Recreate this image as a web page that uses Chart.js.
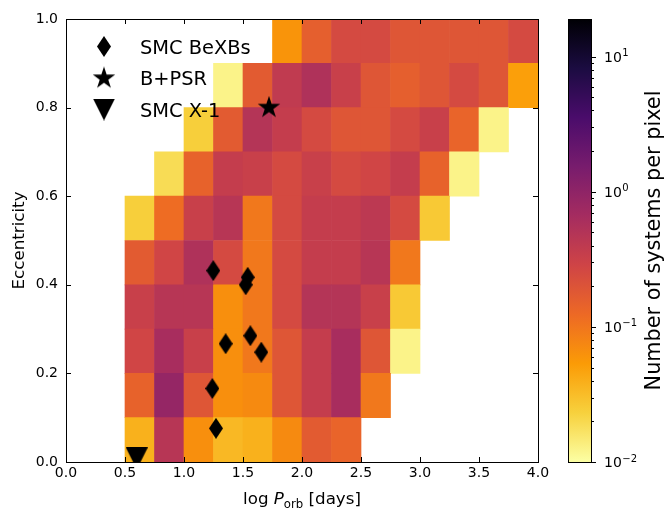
<!DOCTYPE html>
<html>
<head>
<meta charset="utf-8">
<script src="https://cdn.jsdelivr.net/npm/chart.js@4.4.1/dist/chart.umd.min.js"></script>
<style>
  html, body { margin: 0; padding: 0; background: #fff; }
  #wrap { position: relative; width: 668px; height: 508px; }
  #heat { position: absolute; left: 0; top: 0; }
  #scale { position: absolute; left: 560px; top: 0; }
</style>
</head>
<body>
<div id="wrap">
  <canvas id="heat" width="560" height="508"></canvas>
  <canvas id="scale" width="108" height="508"></canvas>
</div>
<script>
// bin centres in log P_orb, bin edges in eccentricity
const logPCentres = [0.125, 0.375, 0.625, 0.875, 1.125, 1.375, 1.625, 1.875, 2.125, 2.375, 2.625, 2.875, 3.125, 3.375, 3.625, 3.875];
const eccEdges = [0.0, 0.1, 0.2, 0.3, 0.4, 0.5, 0.6, 0.7, 0.8, 0.9, 1.0];

// number of systems per pixel, one row per eccentricity bin (bottom up), null = empty
const ecc00 = [null, null, 0.038, 0.46, 0.065, 0.034, 0.038, 0.071, 0.17, 0.14, null, null, null, null, null, null];
const ecc01 = [null, null, 0.145, 0.89, 0.19, 0.065, 0.071, 0.19, 0.36, 0.63, 0.096, null, null, null, null, null];
const ecc02 = [null, null, 0.28, 0.63, 0.33, 0.065, 0.096, 0.19, 0.36, 0.63, 0.19, 0.0125, null, null, null, null];
const ecc03 = [null, null, 0.33, 0.46, 0.46, 0.065, 0.096, 0.25, 0.49, 0.49, 0.33, 0.026, null, null, null, null];
const ecc04 = [null, null, 0.17, 0.28, 0.54, 0.25, 0.096, 0.25, 0.36, 0.36, 0.46, 0.096, null, null, null, null];
const ecc05 = [null, null, 0.024, 0.117, 0.33, 0.46, 0.096, 0.25, 0.36, 0.36, 0.42, 0.25, 0.026, null, null, null];
const ecc06 = [null, null, null, 0.019, 0.145, 0.36, 0.33, 0.25, 0.33, 0.25, 0.28, 0.36, 0.145, 0.0125, null, null];
const ecc07 = [null, null, null, null, 0.024, 0.17, 0.49, 0.36, 0.25, 0.19, 0.19, 0.25, 0.33, 0.14, 0.0125, null];
const ecc08 = [null, null, null, null, null, 0.0125, 0.17, 0.39, 0.54, 0.33, 0.19, 0.155, 0.19, 0.25, 0.19, 0.05];
const ecc09 = [null, null, null, null, null, null, null, 0.06, 0.155, 0.25, 0.25, 0.19, 0.19, 0.19, 0.19, 0.25];

// observed systems
const beXbLogP = [1.248, 1.54, 1.523, 1.353, 1.562, 1.655, 1.24, 1.271];
const beXbEcc = [0.432, 0.417, 0.40, 0.267, 0.285, 0.248, 0.166, 0.076];
const psrLogP = [1.72];
const psrEcc = [0.80];
const x1LogP = [0.60];
const x1Ecc = [0.008];

// axes
const xTicks = [0, 0.5, 1, 1.5, 2, 2.5, 3, 3.5, 4];
const xTickLabels = ['0.0', '0.5', '1.0', '1.5', '2.0', '2.5', '3.0', '3.5', '4.0'];
const yTicks = [0, 0.2, 0.4, 0.6, 0.8, 1.0];
const yTickLabels = ['0.0', '0.2', '0.4', '0.6', '0.8', '1.0'];

// colour bar
const vMin = 0.01;
const vMax = 19;
const cbMajor = [0.01, 0.1, 1, 10];
const cbExponents = ['\u22122', '\u22121', '0', '1'];
const cbMinor = [0.02, 0.03, 0.04, 0.05, 0.06, 0.07, 0.08, 0.09, 0.2, 0.3, 0.4, 0.5, 0.6, 0.7, 0.8, 0.9, 2, 3, 4, 5, 6, 7, 8, 9];

const FONT = 'DejaVu Sans';
const inferno = ['#000004', '#1b0c41', '#4a0c6b', '#781c6d', '#a52c60', '#cf4446', '#ed6925', '#fb9b06', '#f7d13d', '#fcffa4'];

function hexRgb(h) {
  return [parseInt(h.slice(1, 3), 16), parseInt(h.slice(3, 5), 16), parseInt(h.slice(5, 7), 16)];
}

function infernoAt(t) {
  const n = inferno.length - 1;
  t = Math.min(1, Math.max(0, t));
  const i = Math.min(n - 1, Math.floor(t * n));
  const f = t * n - i;
  const a = hexRgb(inferno[i]);
  const b = hexRgb(inferno[i + 1]);
  const c = a.map((v, k) => Math.round(v + (b[k] - v) * f));
  return `rgb(${c[0]}, ${c[1]}, ${c[2]})`;
}

// inferno_r on a log norm
function colourFor(v) {
  const f = (Math.log10(v) - Math.log10(vMin)) / (Math.log10(vMax) - Math.log10(vMin));
  return infernoAt(1 - f);
}

function marker(w, h, path) {
  const c = document.createElement('canvas');
  c.width = w;
  c.height = h;
  const g = c.getContext('2d');
  g.fillStyle = '#000';
  g.beginPath();
  path(g, w, h);
  g.closePath();
  g.fill();
  return c;
}

const diamondImg = marker(14, 21, (g, w, h) => {
  g.moveTo(w / 2, 0);
  g.lineTo(w, h / 2);
  g.lineTo(w / 2, h);
  g.lineTo(0, h / 2);
});
const starImg = marker(24, 24, (g) => {
  for (let i = 0; i < 10; i++) {
    const r = i % 2 === 0 ? 11.8 : 11.8 * 0.382;
    const a = -Math.PI / 2 + (i * Math.PI) / 5;
    const px = 12 + r * Math.cos(a);
    const py = 12 + r * Math.sin(a);
    if (i === 0) g.moveTo(px, py);
    else g.lineTo(px, py);
  }
});
const triImg = marker(22, 22, (g, w, h) => {
  g.moveTo(0, 0);
  g.lineTo(w, 0);
  g.lineTo(w / 2, h);
});

const rows = [ecc00, ecc01, ecc02, ecc03, ecc04, ecc05, ecc06, ecc07, ecc08, ecc09];
const heatSets = rows.map((vals, r) => {
  const pts = [];
  const cols = [];
  vals.forEach((v, c) => {
    if (v === null) return;
    pts.push({ x: logPCentres[c], y: [eccEdges[r], eccEdges[r + 1]] });
    cols.push(colourFor(v));
  });
  return {
    type: 'bar',
    data: pts,
    backgroundColor: cols,
    borderWidth: 0,
    barPercentage: 1,
    categoryPercentage: 1,
    grouped: false,
    order: 2,
  };
});

function points(xs, ys) {
  return xs.map((x, i) => ({ x: x, y: ys[i] }));
}

const legendItems = [
  { img: diamondImg, text: 'SMC BeXBs' },
  { img: starImg, text: 'B+PSR' },
  { img: triImg, text: 'SMC X-1' },
];

const heatDecor = {
  id: 'heatDecor',
  afterDatasetsDraw(chart) {
    const { ctx, chartArea: a, scales } = chart;
    ctx.save();
    ctx.strokeStyle = '#000';
    ctx.lineWidth = 1;
    ctx.beginPath();
    xTicks.forEach((v) => {
      const px = Math.round(scales.x.getPixelForValue(v)) + 0.5;
      ctx.moveTo(px, a.bottom);
      ctx.lineTo(px, a.bottom - 5);
      ctx.moveTo(px, a.top);
      ctx.lineTo(px, a.top + 5);
    });
    yTicks.forEach((v) => {
      const py = Math.round(scales.y.getPixelForValue(v)) + 0.5;
      ctx.moveTo(a.left, py);
      ctx.lineTo(a.left + 5, py);
      ctx.moveTo(a.right, py);
      ctx.lineTo(a.right - 5, py);
    });
    ctx.stroke();
    ctx.strokeRect(Math.round(a.left) + 0.5, Math.round(a.top) + 0.5, Math.round(a.width), Math.round(a.height));

    // legend, no frame
    ctx.fillStyle = '#000';
    ctx.font = `19.4px "${FONT}"`;
    ctx.textAlign = 'left';
    ctx.textBaseline = 'alphabetic';
    const rowsY = [46.5, 78.3, 109.5];
    legendItems.forEach((it, i) => {
      const cy = rowsY[i];
      ctx.drawImage(it.img, 104 - it.img.width / 2, cy - it.img.height / 2);
      ctx.fillText(it.text, 140, cy + 7.1);
    });

    // axis titles
    const midX = (a.left + a.right) / 2;
    const big = 16.7;
    const small = 11.7;
    const parts = [
      { t: 'log ', f: `${big}px "${FONT}"`, dy: 0 },
      { t: 'P', f: `italic ${big}px "${FONT}"`, dy: 0 },
      { t: 'orb', f: `${small}px "${FONT}"`, dy: 3.5 },
      { t: ' [days]', f: `${big}px "${FONT}"`, dy: 0 },
    ];
    let total = 0;
    parts.forEach((p) => {
      ctx.font = p.f;
      p.w = ctx.measureText(p.t).width;
      total += p.w;
    });
    let x0 = midX - total / 2;
    parts.forEach((p) => {
      ctx.font = p.f;
      ctx.fillText(p.t, x0, 504 + p.dy);
      x0 += p.w;
    });

    ctx.font = `${big}px "${FONT}"`;
    ctx.translate(24, (a.top + a.bottom) / 2);
    ctx.rotate(-Math.PI / 2);
    ctx.textAlign = 'center';
    ctx.fillText('Eccentricity', 0, 0);
    ctx.restore();
  },
};

Chart.defaults.font.family = FONT;
Chart.defaults.color = '#000';

new Chart(document.getElementById('heat'), {
  type: 'bar',
  data: {
    datasets: [
      {
        type: 'scatter',
        label: 'SMC BeXBs',
        data: points(beXbLogP, beXbEcc),
        pointStyle: diamondImg,
        pointRadius: 8,
        clip: 0,
        order: 0,
      },
      {
        type: 'scatter',
        label: 'B+PSR',
        data: points(psrLogP, psrEcc),
        pointStyle: starImg,
        pointRadius: 10,
        clip: 0,
        order: 0,
      },
      {
        type: 'scatter',
        label: 'SMC X-1',
        data: points(x1LogP, x1Ecc),
        pointStyle: triImg,
        pointRadius: 10,
        clip: 0,
        order: 0,
      },
      ...heatSets,
    ],
  },
  options: {
    responsive: false,
    animation: false,
    events: [],
    layout: { padding: { top: 19, right: 22, left: 0, bottom: 0 } },
    plugins: { legend: { display: false }, tooltip: { enabled: false } },
    scales: {
      x: {
        type: 'linear',
        min: 0,
        max: 4,
        offset: false,
        grid: { display: false, drawTicks: false, offset: false },
        border: { display: false },
        afterBuildTicks: (s) => {
          s.ticks = xTicks.map((v) => ({ value: v }));
        },
        afterFit: (s) => {
          s.height = 46;
        },
        ticks: {
          autoSkip: false,
          maxRotation: 0,
          padding: 3,
          font: { size: 14 },
          callback: (v, i) => xTickLabels[i],
        },
      },
      y: {
        type: 'linear',
        min: 0,
        max: 1,
        grid: { display: false, drawTicks: false },
        border: { display: false },
        afterBuildTicks: (s) => {
          s.ticks = yTicks.map((v) => ({ value: v }));
        },
        afterFit: (s) => {
          s.width = 66;
        },
        ticks: {
          autoSkip: false,
          padding: 8,
          font: { size: 14 },
          callback: (v, i) => yTickLabels[i],
        },
      },
    },
  },
  plugins: [heatDecor],
});

const scaleDecor = {
  id: 'scaleDecor',
  afterDraw(chart) {
    const { ctx, chartArea: a, scales } = chart;
    ctx.save();
    ctx.strokeStyle = '#000';
    ctx.lineWidth = 1;
    ctx.strokeRect(Math.round(a.left) + 0.5, Math.round(a.top) + 0.5, Math.round(a.width), Math.round(a.height));
    ctx.beginPath();
    cbMajor.forEach((v) => {
      const py = Math.round(scales.y.getPixelForValue(v)) + 0.5;
      ctx.moveTo(a.right, py);
      ctx.lineTo(a.right + 5, py);
    });
    cbMinor.forEach((v) => {
      const py = Math.round(scales.y.getPixelForValue(v)) + 0.5;
      ctx.moveTo(a.right, py);
      ctx.lineTo(a.right + 3, py);
    });
    ctx.stroke();

    // 10^n labels with a raised exponent
    ctx.fillStyle = '#000';
    ctx.textAlign = 'left';
    ctx.textBaseline = 'alphabetic';
    cbMajor.forEach((v, i) => {
      const py = scales.y.getPixelForValue(v);
      const x0 = a.right + 13;
      ctx.font = `14px "${FONT}"`;
      ctx.fillText('10', x0, py + 5);
      const w = ctx.measureText('10').width;
      ctx.font = `10px "${FONT}"`;
      ctx.fillText(cbExponents[i], x0 + w + 0.5, py - 0.5);
    });

    ctx.font = `20.8px "${FONT}"`;
    ctx.textAlign = 'center';
    ctx.translate(100, (a.top + a.bottom) / 2);
    ctx.rotate(-Math.PI / 2);
    ctx.fillText('Number of systems per pixel', 0, 0);
    ctx.restore();
  },
};

new Chart(document.getElementById('scale'), {
  type: 'bar',
  data: {
    labels: ['cb'],
    datasets: [
      {
        data: [[vMin, vMax]],
        borderWidth: 0,
        barPercentage: 1,
        categoryPercentage: 1,
        backgroundColor: (c) => {
          const area = c.chart.chartArea;
          if (!area) return null;
          const g = c.chart.ctx.createLinearGradient(0, area.bottom, 0, area.top);
          const n = inferno.length - 1;
          inferno.forEach((hex, i) => g.addColorStop(i / n, inferno[n - i]));
          return g;
        },
      },
    ],
  },
  options: {
    responsive: false,
    animation: false,
    events: [],
    layout: { padding: { top: 19, left: 8, bottom: 46, right: 0 } },
    plugins: { legend: { display: false }, tooltip: { enabled: false } },
    scales: {
      x: { display: false },
      y: {
        type: 'logarithmic',
        position: 'right',
        min: vMin,
        max: vMax,
        grid: { display: false, drawTicks: false },
        border: { display: false },
        afterBuildTicks: (s) => {
          s.ticks = cbMajor.map((v) => ({ value: v }));
        },
        afterFit: (s) => {
          s.width = 77;
        },
        ticks: { display: false },
      },
    },
  },
  plugins: [scaleDecor],
});
</script>
</body>
</html>
